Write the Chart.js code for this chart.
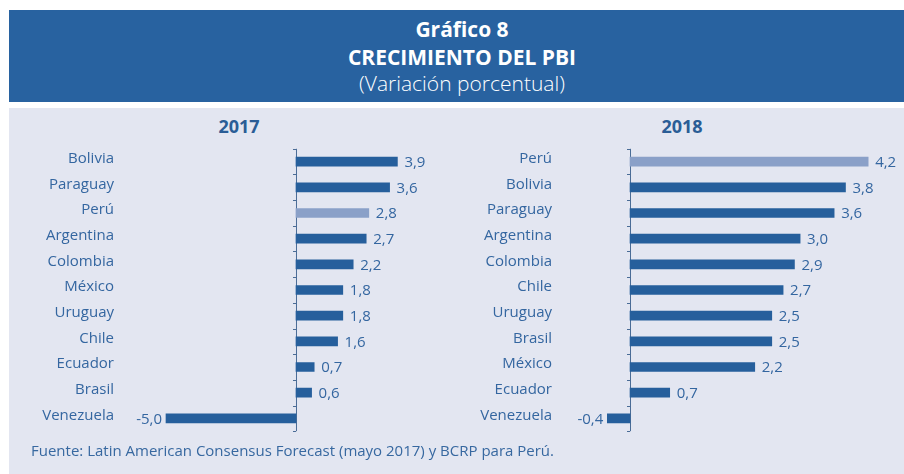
<!DOCTYPE html>
<html>
<head>
<meta charset="utf-8">
<script src="https://cdn.jsdelivr.net/npm/chart.js@4"></script>
<style>
  body { margin: 0; width: 904px; height: 474px; background: #fff; position: relative; overflow: hidden; font-family: "Open Sans", sans-serif; }
  #head { position: absolute; left: 9px; top: 10px; width: 906px; height: 92px; background: #2862a0; color: #fff; }
  #head div { position: absolute; left: 0; width: 100%; text-align: center; line-height: 28px; font-size: 21px; }
  #panel { position: absolute; left: 9px; top: 108px; width: 900px; height: 370px; background: #e3e6f1; }
  .yr { position: absolute; top: 113px; width: 100px; text-align: center; font-size: 18px; font-weight: bold; color: #2a5d96; line-height: 26px; }
  #src { position: absolute; left: 31px; top: 439px; font-size: 15px; color: #3768a0; line-height: 22px; }
  canvas { position: absolute; top: 140px; }
</style>
</head>
<body>
<div id="head">
  <div style="top:5px;font-weight:bold">Gráfico 8</div>
  <div style="top:33px;font-weight:bold">CRECIMIENTO DEL PBI</div>
  <div style="top:59px;font-weight:300">(Variación porcentual)</div>
</div>
<div id="panel"></div>
<div class="yr" style="left:189px">2017</div>
<div class="yr" style="left:632px">2018</div>
<canvas id="c2017" width="450" height="300" style="left:0"></canvas>
<canvas id="c2018" width="454" height="300" style="left:450px"></canvas>
<div id="src">Fuente: Latin American Consensus Forecast (mayo 2017) y BCRP para Perú.</div>

<script>
// datos 2017
const cats2017 = ['Bolivia', 'Paraguay', 'Perú', 'Argentina', 'Colombia', 'México', 'Uruguay', 'Chile', 'Ecuador', 'Brasil', 'Venezuela'];
const vals2017 = [3.9, 3.6, 2.8, 2.7, 2.2, 1.8, 1.8, 1.6, 0.7, 0.6, -5.0];
// datos 2018
const cats2018 = ['Perú', 'Bolivia', 'Paraguay', 'Argentina', 'Colombia', 'Chile', 'Uruguay', 'Brasil', 'México', 'Ecuador', 'Venezuela'];
const vals2018 = [4.2, 3.8, 3.6, 3.0, 2.9, 2.7, 2.5, 2.5, 2.2, 0.7, -0.4];

const dark = '#265f9c';
const light = '#8aa0c8';
const txt = '#3466a0';

// eje en cero + rayitas entre categorias
const axisPlugin = {
  id: 'axisZero',
  beforeDatasetsDraw(chart) {
    const ctx = chart.ctx;
    const x0 = chart.scales.x.getPixelForValue(0);
    const ys = chart.scales.y;
    const area = chart.chartArea;
    ctx.save();
    ctx.strokeStyle = '#4a6c96';
    ctx.lineWidth = 1;
    ctx.beginPath();
    ctx.moveTo(x0 + 0.5, area.top);
    ctx.lineTo(x0 + 0.5, area.bottom);
    for (let i = 0; i <= ys.ticks.length; i++) {
      const y = Math.round(ys.getPixelForValue(i - 0.5)) + 0.5;
      ctx.moveTo(x0 - 3, y);
      ctx.lineTo(x0, y);
    }
    ctx.stroke();
    ctx.restore();
  }
};

// etiquetas de valores
const valuePlugin = {
  id: 'valores',
  afterDatasetsDraw(chart) {
    const ctx = chart.ctx;
    const vals = chart.data.datasets[0].data;
    ctx.save();
    ctx.font = '15px "Open Sans"';
    ctx.fillStyle = txt;
    ctx.textBaseline = 'middle';
    chart.getDatasetMeta(0).data.forEach(function (bar, i) {
      const label = vals[i].toFixed(1).replace('.', ',');
      if (vals[i] >= 0) {
        ctx.textAlign = 'left';
        ctx.fillText(label, bar.x + 7, bar.y + 1);
      } else {
        ctx.textAlign = 'right';
        ctx.fillText(label, bar.x - 4, bar.y + 1);
      }
    });
    ctx.restore();
  }
};

const makeChart = (id, cats, vals, min, max, axisW) => {
  new Chart(document.getElementById(id), {
    type: 'bar',
    data: {
      labels: cats,
      datasets: [{
        data: vals,
        backgroundColor: cats.map(c => c === 'Perú' ? light : dark),
        barThickness: 9
      }]
    },
    options: {
      indexAxis: 'y',
      responsive: false,
      animation: false,
      layout: { padding: { top: 8.8, bottom: 8.8, left: 0, right: 0 } },
      plugins: { legend: { display: false }, tooltip: { enabled: false } },
      scales: {
        x: { display: false, min: min, max: max },
        y: {
          grid: { display: false, drawTicks: false },
          border: { display: false },
          ticks: {
            padding: 6,
            labelOffset: -3,
            color: txt,
            font: { family: 'Open Sans', size: 15 }
          },
          afterFit: function (scale) {
            scale.width = axisW;
            scale.paddingTop = 0;
            scale.paddingBottom = 0;
          }
        }
      }
    },
    plugins: [axisPlugin, valuePlugin]
  });
};

makeChart('c2017', cats2017, vals2017, -6.769, 5.923, 120);
makeChart('c2018', cats2018, vals2018, -1.27, 4.832, 108);
</script>
</body>
</html>
